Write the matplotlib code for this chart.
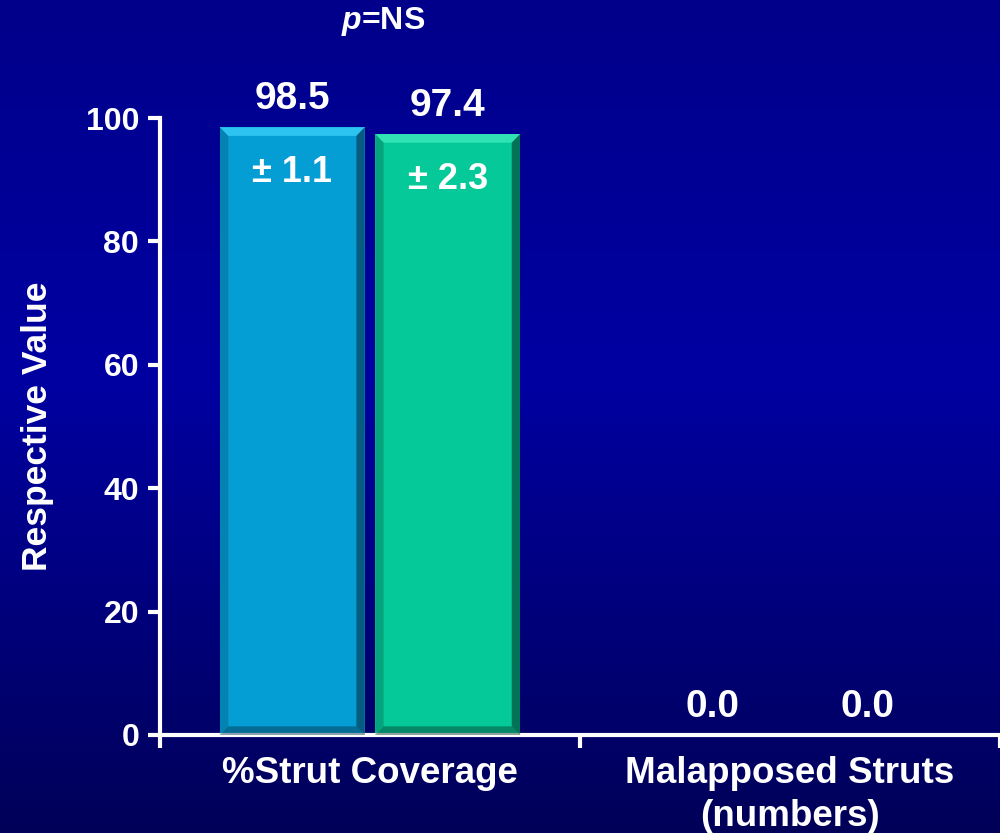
import numpy as np
import matplotlib
matplotlib.use("Agg")
import matplotlib.pyplot as plt
from matplotlib.patches import Polygon

categories = ["%Strut Coverage", "Malapposed Struts\n(numbers)"]
series_a = [98.5, 0.0]
series_b = [97.4, 0.0]
sd_a = ["± 1.1", None]
sd_b = ["± 2.3", None]
yticks = [0, 20, 40, 60, 80, 100]
p_text = "=NS"

plt.rcParams['font.family'] = ['Liberation Sans', 'DejaVu Sans']
plt.rcParams['font.weight'] = 'bold'
plt.rcParams['mathtext.fontset'] = 'custom'
plt.rcParams['mathtext.it'] = 'Liberation Sans:italic:bold'
plt.rcParams['mathtext.rm'] = 'Liberation Sans:bold'

fig = plt.figure(figsize=(10, 8.33), dpi=100)

# background gradient
bg = fig.add_axes([0, 0, 1, 1], zorder=-10)
bg.axis('off')
stops_y = np.array([0.0, 0.45, 1.0])
stops_b = np.array([138, 162, 88]) / 255.0
yy = np.linspace(0, 1, 400)
bvals = np.interp(yy, stops_y, stops_b)
img = np.zeros((400, 1, 3))
img[:, 0, 2] = bvals
bg.imshow(img, aspect='auto', extent=[0, 1, 0, 1], origin='upper')
bg.set_xlim(0, 1); bg.set_ylim(0, 1)

ax = fig.add_axes([0.16, 1 - 735 / 833, 0.84, 617 / 833])
ax.patch.set_alpha(0)
ax.set_xlim(-0.5, 1.5)
ax.set_ylim(0, 100)

x = np.arange(len(categories))
w = 0.345
off = 0.185
col_a = '#049DD4'
col_b = '#06C999'

def bevel_bar(xc, h, color, light, dark):
    ax.bar(xc, h, width=w, color=color, zorder=2, clip_on=False)
    if h <= 0:
        return
    x0, x1 = xc - w / 2, xc + w / 2
    dx, dy = 0.02, 1.4
    ax.add_patch(Polygon([[x0, h], [x1, h], [x1 - dx, h - dy], [x0 + dx, h - dy]],
                         closed=True, color=light, zorder=3, lw=0))
    ax.add_patch(Polygon([[x1, h], [x1, 0], [x1 - dx, dy], [x1 - dx, h - dy]],
                         closed=True, color=dark, zorder=3, lw=0, alpha=0.6))
    ax.add_patch(Polygon([[x0, h], [x0, 0], [x0 + dx, dy], [x0 + dx, h - dy]],
                         closed=True, color=dark, zorder=3, lw=0, alpha=0.25))
    ax.add_patch(Polygon([[x0, 0], [x1, 0], [x1 - dx, dy], [x0 + dx, dy]],
                         closed=True, color=dark, zorder=3, lw=0, alpha=0.45))

for i in range(len(categories)):
    bevel_bar(x[i] - off, series_a[i], col_a, '#2EC4F2', '#06324a')
    bevel_bar(x[i] + off, series_b[i], col_b, '#30E2B4', '#04392a')
    ax.text(x[i] - off, series_a[i] + 4.6, f"{series_a[i]:.1f}", ha='center', va='center',
            color='white', fontsize=28, fontweight='bold')
    ax.text(x[i] + off, series_b[i] + 4.6, f"{series_b[i]:.1f}", ha='center', va='center',
            color='white', fontsize=28, fontweight='bold')
    if sd_a[i]:
        ax.text(x[i] - off, series_a[i] - 7.4, sd_a[i], ha='center', va='center',
                color='white', fontsize=26, fontweight='bold')
    if sd_b[i]:
        ax.text(x[i] + off, series_b[i] - 7.4, sd_b[i], ha='center', va='center',
                color='white', fontsize=26, fontweight='bold')

fig.text(383 / 1000, 1 - 22 / 833, r"$\it{p}$" + p_text, ha='center', va='center',
         color='white', fontsize=23, fontweight='bold')

for s in ['top', 'right']:
    ax.spines[s].set_visible(False)
for s in ['left', 'bottom']:
    ax.spines[s].set_color('white')
    ax.spines[s].set_linewidth(3)

ax.set_yticks(yticks)
ax.set_yticklabels([str(t) for t in yticks], color='white', fontsize=23, fontweight='bold')
ax.tick_params(axis='y', colors='white', width=3, length=9, pad=6)
ax.set_xticks([-0.5, 0.5, 1.5])
ax.set_xticklabels([])
ax.tick_params(axis='x', which='major', colors='white', width=3, length=9)
ax.set_xticks(x, minor=True)
ax.set_xticklabels(categories, minor=True, color='white', fontsize=26.5, fontweight='bold',
                   linespacing=1.3)
ax.tick_params(axis='x', which='minor', length=0, pad=15)
ax.set_ylabel("Respective Value", color='white', fontsize=25.5, fontweight='bold', labelpad=23)

fig.savefig("out.png", dpi=100)
